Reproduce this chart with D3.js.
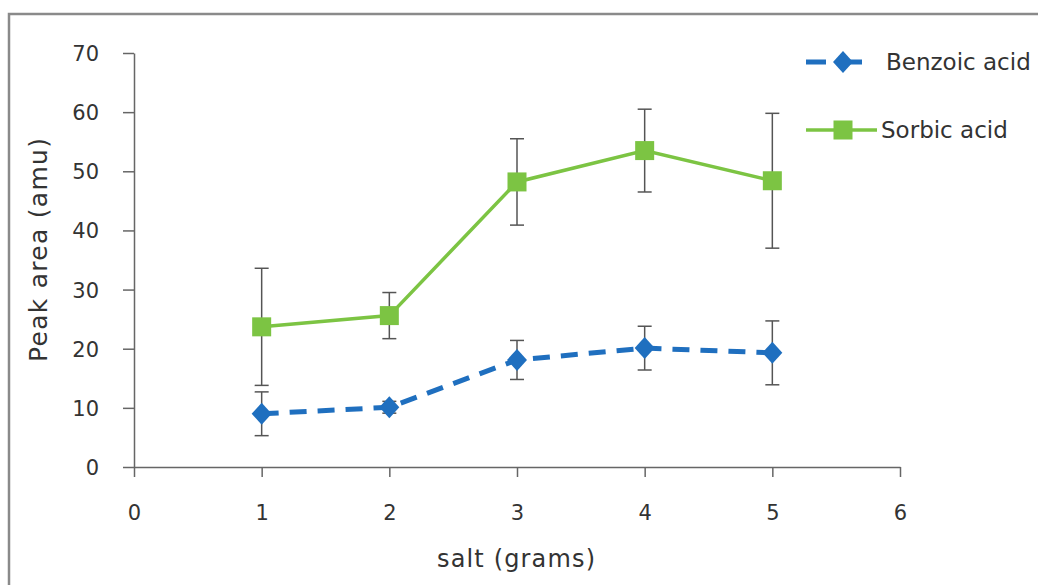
<!DOCTYPE html>
<html>
<head>
<meta charset="utf-8">
<script src="https://cdn.jsdelivr.net/npm/d3@7"></script>
<style>
  body { margin: 0; background: #fff; }
  svg text { font-family: "DejaVu Sans", Verdana, sans-serif; fill: #333; }
</style>
</head>
<body>
<svg id="chart" width="1038" height="585"></svg>
<script>
'use strict';

// values
var saltGrams = [1, 2, 3, 4, 5];
var benzoicArea = [9.0, 10.1, 18.1, 20.1, 19.3];
var benzoicErr = [3.7, 1.0, 3.3, 3.7, 5.4];
var sorbicArea = [23.7, 25.6, 48.2, 53.5, 48.4];
var sorbicErr = [9.9, 3.9, 7.3, 7.0, 11.4];
var xTicks = [0, 1, 2, 3, 4, 5, 6];
var yTicks = [0, 10, 20, 30, 40, 50, 60, 70];

var series = [
  { name: 'Benzoic acid', values: benzoicArea, err: benzoicErr, color: '#1f6fbf', dash: '17,11', width: 5, marker: 'diamond' },
  { name: 'Sorbic acid', values: sorbicArea, err: sorbicErr, color: '#7cc443', dash: null, width: 3.5, marker: 'square' }
];

var svg = d3.select('#chart');

// outer frame (only top and left edges show in the picture)
svg.append('path')
  .attr('d', 'M9,600 L9,14 L1050,14')
  .attr('fill', 'none')
  .attr('stroke', '#8a8a8a')
  .attr('stroke-width', 2.5);

var x = d3.scaleLinear().domain([0, 6]).range([134, 900]);
var y = d3.scaleLinear().domain([0, 70]).range([467, 53]);

var xAxis = svg.append('g')
  .attr('transform', 'translate(0,' + y(0) + ')')
  .call(d3.axisBottom(x).tickValues(xTicks).tickFormat(d3.format('d'))
    .tickSizeInner(10).tickSizeOuter(0).tickPadding(28));
var yAxis = svg.append('g')
  .attr('transform', 'translate(' + x(0) + ',0)')
  .call(d3.axisLeft(y).tickValues(yTicks).tickFormat(d3.format('d'))
    .tickSizeInner(11).tickSizeOuter(0).tickPadding(24));

[xAxis, yAxis].forEach(function(ax) {
  ax.select('.domain').attr('stroke', '#666').attr('stroke-width', 1.5);
  ax.selectAll('.tick line').attr('stroke', '#666').attr('stroke-width', 1.5);
  ax.selectAll('.tick text').style('font-size', '21px').attr('fill', '#2b2b2b');
});
yAxis.selectAll('.tick text').attr('dy', '0.36em');

svg.append('text')
  .attr('x', 516).attr('y', 567)
  .attr('text-anchor', 'middle')
  .attr('textLength', 158)
  .style('font-size', '24px')
  .text('salt (grams)');

svg.append('text')
  .attr('transform', 'translate(38,250) rotate(-90)')
  .attr('text-anchor', 'middle')
  .attr('dy', '0.35em')
  .attr('textLength', 224)
  .style('font-size', '25px')
  .text('Peak area (amu)');

var line = d3.line()
  .x(function(d, i) { return x(saltGrams[i]); })
  .y(function(d) { return y(d); });

function drawMarker(g, kind, cx, cy, color) {
  if (kind === 'diamond') {
    g.append('path')
      .attr('d', 'M' + cx + ',' + (cy - 11) + ' L' + (cx + 10) + ',' + cy + ' L' + cx + ',' + (cy + 11) + ' L' + (cx - 10) + ',' + cy + ' Z')
      .attr('fill', color);
  } else {
    g.append('rect')
      .attr('x', cx - 9.5).attr('y', cy - 9.5)
      .attr('width', 19).attr('height', 19)
      .attr('fill', color);
  }
}

series.forEach(function(s) {
  var g = svg.append('g');

  g.append('path')
    .datum(s.values)
    .attr('d', line)
    .attr('fill', 'none')
    .attr('stroke', s.color)
    .attr('stroke-width', s.width)
    .attr('stroke-dasharray', s.dash);

  // error bars, under the markers
  s.values.forEach(function(v, i) {
    var cx = x(saltGrams[i]);
    var top = y(v + s.err[i]), bot = y(v - s.err[i]);
    g.append('line').attr('x1', cx).attr('x2', cx).attr('y1', top).attr('y2', bot)
      .attr('stroke', '#555').attr('stroke-width', 1.5);
    [top, bot].forEach(function(yy) {
      g.append('line').attr('x1', cx - 7).attr('x2', cx + 7).attr('y1', yy).attr('y2', yy)
        .attr('stroke', '#555').attr('stroke-width', 1.5);
    });
  });

  s.values.forEach(function(v, i) {
    drawMarker(g, s.marker, x(saltGrams[i]), y(v), s.color);
  });
});

// legend
var legendY = [62, 130];
series.forEach(function(s, i) {
  var lg = svg.append('g').attr('transform', 'translate(0,' + legendY[i] + ')');
  var x1 = 806, x2 = s.dash ? 862 : 877;
  lg.append('line')
    .attr('x1', x1).attr('x2', x2).attr('y1', 0).attr('y2', 0)
    .attr('stroke', s.color)
    .attr('stroke-width', s.width)
    .attr('stroke-dasharray', s.dash ? '20,16,20' : null);
  drawMarker(lg, s.marker, 843, 0, s.color);
  lg.append('text')
    .attr('x', s.dash ? 886 : 881).attr('y', 0).attr('dy', '0.35em')
    .style('font-size', '23px')
    .text(s.name);
});
</script>
</body>
</html>
